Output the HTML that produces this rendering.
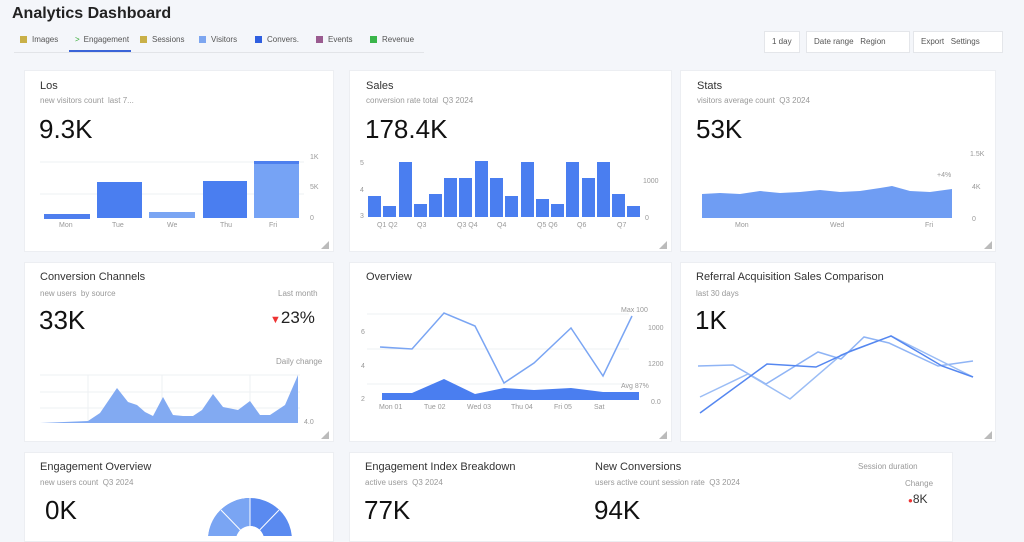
<!DOCTYPE html>
<html><head><meta charset="utf-8"><style>
*{margin:0;padding:0;box-sizing:border-box}
body{width:1024px;height:536px;overflow:hidden;background:#f4f6fa;font-family:"Liberation Sans",sans-serif;position:relative;color:#222}
.a{position:absolute}
.card{position:absolute;background:#fff;border:1px solid #eceef2}
.t{position:absolute;font-size:11px;color:#333}
.s{position:absolute;font-size:8px;color:#999}
.v{position:absolute;font-size:26px;color:#111}
.tab{position:absolute;top:35px;font-size:8px;color:#555}
.sq{display:inline-block;width:7px;height:7px;margin-right:5px;vertical-align:-1px}
.btn{position:absolute;top:31px;height:22px;background:#fff;border:1px solid #e4e6ea;font-size:8px;color:#555;line-height:20px;padding:0 7px}
.cr{position:absolute;width:0;height:0;border-left:8px solid transparent;border-bottom:8px solid #bbb}
</style></head><body>
<div class="a" style="left:12px;top:5px;font-size:16px;font-weight:bold;color:#222">Analytics Dashboard</div>
<div class="tab" style="left:20px"><span class="sq" style="background:#c9b048"></span>Images</div>
<div class="tab" style="left:75px"><span style="color:#3a3;margin-right:4px">&gt;</span>Engagement</div>
<div class="tab" style="left:140px"><span class="sq" style="background:#c9b048"></span>Sessions</div>
<div class="tab" style="left:199px"><span class="sq" style="background:#7da6f0"></span>Visitors</div>
<div class="tab" style="left:255px"><span class="sq" style="background:#2f5fe0"></span>Convers.</div>
<div class="tab" style="left:316px"><span class="sq" style="background:#9a5b90"></span>Events</div>
<div class="tab" style="left:370px"><span class="sq" style="background:#3ab54a"></span>Revenue</div>
<div class="a" style="left:69px;top:50px;width:62px;height:2px;background:#3a64d8"></div>
<div class="a" style="left:14px;top:52px;width:410px;height:1px;background:#e2e4e8"></div>
<div class="btn" style="left:764px">1 day</div>
<div class="btn" style="left:806px;width:104px">Date range &nbsp; Region</div>
<div class="btn" style="left:913px;width:90px">Export &nbsp; Settings</div>

<!-- row1 -->
<div class="card" style="left:24px;top:70px;width:310px;height:182px"></div>
<div class="t" style="left:40px;top:80px">Los</div>
<div class="s" style="left:40px;top:96px">new visitors count &nbsp;last 7...</div>
<div class="v" style="left:39px;top:114px">9.3K</div>
<svg class="a" style="left:24px;top:70px" width="310" height="182">
<g stroke="#eef0f3"><line x1="16" y1="92" x2="280" y2="92"/><line x1="16" y1="124" x2="280" y2="124"/></g>
<rect x="20" y="144" width="46" height="5" fill="#4f7fee"/>
<rect x="73" y="112" width="45" height="36" fill="#4a7ef0"/>
<rect x="125" y="142" width="46" height="6" fill="#7aa5f3"/>
<rect x="179" y="111" width="44" height="37" fill="#4a7ef0"/>
<rect x="230" y="91" width="45" height="57" fill="#76a3f5"/><rect x="230" y="91" width="45" height="3" fill="#4d7fee"/>
<g font-size="7" fill="#999"><text x="286" y="89">1K</text><text x="286" y="119">5K</text><text x="286" y="150">0</text>
<text x="35" y="157">Mon</text><text x="88" y="157">Tue</text><text x="143" y="157">We</text><text x="196" y="157">Thu</text><text x="245" y="157">Fri</text></g>
</svg>
<div class="cr" style="left:321px;top:241px"></div>

<div class="card" style="left:349px;top:70px;width:323px;height:182px"></div>
<div class="t" style="left:366px;top:80px">Sales</div>
<div class="s" style="left:366px;top:96px">conversion rate total &nbsp;Q3 2024</div>
<div class="v" style="left:365px;top:114px">178.4K</div>
<svg class="a" style="left:349px;top:70px" width="323" height="182">
<g fill="#4a7ef0">
<rect x="19" y="126" width="13" height="21"/><rect x="34" y="136" width="13" height="11"/><rect x="50" y="92" width="13" height="55"/><rect x="65" y="134" width="13" height="13"/><rect x="80" y="124" width="13" height="23"/><rect x="95" y="108" width="13" height="39"/><rect x="110" y="108" width="13" height="39"/><rect x="126" y="91" width="13" height="56"/><rect x="141" y="108" width="13" height="39"/><rect x="156" y="126" width="13" height="21"/><rect x="172" y="92" width="13" height="55"/><rect x="187" y="129" width="13" height="18"/><rect x="202" y="134" width="13" height="13"/><rect x="217" y="92" width="13" height="55"/><rect x="233" y="108" width="13" height="39"/><rect x="248" y="92" width="13" height="55"/><rect x="263" y="124" width="13" height="23"/><rect x="278" y="136" width="13" height="11"/></g>
<g font-size="7" fill="#999"><text x="11" y="95">5</text><text x="11" y="122">4</text><text x="11" y="148">3</text><text x="294" y="113">1000</text><text x="296" y="150">0</text>
<text x="28" y="157">Q1 Q2</text><text x="108" y="157">Q3 Q4</text><text x="188" y="157">Q5 Q6</text><text x="268" y="157">Q7</text><text x="68" y="157">Q3</text><text x="148" y="157">Q4</text><text x="228" y="157">Q6</text></g>
</svg>
<div class="cr" style="left:659px;top:241px"></div>

<div class="card" style="left:680px;top:70px;width:316px;height:182px"></div>
<div class="t" style="left:697px;top:80px">Stats</div>
<div class="s" style="left:697px;top:96px">visitors average count &nbsp;Q3 2024</div>
<div class="v" style="left:696px;top:114px">53K</div>
<svg class="a" style="left:680px;top:70px" width="316" height="182">
<path d="M22 124 L40 123 L60 124 L80 121 L100 123 L120 122 L140 120 L160 122 L180 121 L200 118 L212 116 L230 121 L250 122 L272 119 L272 148 L22 148Z" fill="#6f9df3"/>
<g font-size="7" fill="#999"><text x="290" y="86">1.5K</text><text x="257" y="107">+4%</text><text x="292" y="119">4K</text><text x="292" y="151">0</text>
<text x="55" y="157">Mon</text><text x="150" y="157">Wed</text><text x="245" y="157">Fri</text></g>
</svg>
<div class="cr" style="left:984px;top:241px"></div>

<!-- row2 -->
<div class="card" style="left:24px;top:262px;width:310px;height:180px"></div>
<div class="t" style="left:40px;top:271px">Conversion Channels</div>
<div class="s" style="left:40px;top:289px">new users &nbsp;by source</div>
<div class="s" style="left:278px;top:289px">Last month</div>
<div class="v" style="left:39px;top:305px">33K</div>
<div class="a" style="left:270px;top:308px;font-size:17px;color:#222"><span style="color:#e33;font-size:11px">&#9660;</span>23%</div>
<div class="s" style="left:276px;top:357px">Daily change</div>
<svg class="a" style="left:24px;top:262px" width="310" height="180">
<g stroke="#eef0f3"><line x1="16" y1="113" x2="276" y2="113"/><line x1="16" y1="130" x2="276" y2="130"/><line x1="16" y1="146" x2="276" y2="146"/><line x1="64" y1="113" x2="64" y2="161"/><line x1="138" y1="113" x2="138" y2="161"/><line x1="226" y1="113" x2="226" y2="161"/></g>
<path d="M16 161 L64 159 L76 151 L93 126 L104 140 L113 143 L121 150 L129 154 L139 135 L149 153 L159 154 L169 154 L178 148 L189 132 L199 145 L214 148 L226 139 L236 153 L246 153 L261 143 L274 113 L274 161Z" fill="#82aaf2"/>
<g font-size="7" fill="#999"><text x="280" y="162">4.0</text></g>
</svg>
<div class="cr" style="left:321px;top:431px"></div>

<div class="card" style="left:349px;top:262px;width:323px;height:180px"></div>
<div class="t" style="left:366px;top:271px">Overview</div>
<svg class="a" style="left:349px;top:262px" width="323" height="180">
<g stroke="#eef0f3"><line x1="18" y1="52" x2="280" y2="52"/><line x1="18" y1="87" x2="280" y2="87"/><line x1="18" y1="122" x2="280" y2="122"/></g>
<path d="M33 131 L63 131 L95 117 L126 132 L155 126 L185 128 L222 126 L254 130 L290 130 L290 138 L33 138Z" fill="#4a7ef0"/>
<polyline points="31,85 63,87 95,51 126,64 155,121 185,101 222,66 254,114 283,54" fill="none" stroke="#7aa5f3" stroke-width="1.5"/>
<g font-size="7" fill="#999"><text x="12" y="72">6</text><text x="12" y="106">4</text><text x="12" y="139">2</text><text x="299" y="68">1000</text><text x="299" y="104">1200</text><text x="302" y="142">0.0</text><text x="272" y="50">Max 100</text><text x="272" y="126">Avg 87%</text>
<text x="30" y="147">Mon 01</text><text x="75" y="147">Tue 02</text><text x="118" y="147">Wed 03</text><text x="162" y="147">Thu 04</text><text x="205" y="147">Fri 05</text><text x="245" y="147">Sat</text></g>
</svg>
<div class="cr" style="left:659px;top:431px"></div>

<div class="card" style="left:680px;top:262px;width:316px;height:180px"></div>
<div class="t" style="left:696px;top:271px">Referral Acquisition Sales Comparison</div>
<div class="s" style="left:696px;top:289px">last 30 days</div>
<div class="v" style="left:695px;top:305px">1K</div>
<svg class="a" style="left:680px;top:262px" width="316" height="180">
<g fill="none" stroke-width="1.5">
<polyline points="18,104 53,103 86,122 138,90 161,97 184,75 209,81 258,104 293,99" stroke="#8fb4f5"/>
<polyline points="20,135 68,112 110,137 161,93 211,74 293,115" stroke="#9bbdf5"/>
<polyline points="20,151 87,102 136,105 171,89 211,74 262,104 293,115" stroke="#5587f0"/>
</g>
</svg>
<div class="cr" style="left:984px;top:431px"></div>

<!-- row3 -->
<div class="card" style="left:24px;top:452px;width:310px;height:90px"></div>
<div class="t" style="left:40px;top:461px">Engagement Overview</div>
<div class="s" style="left:40px;top:478px">new users count &nbsp;Q3 2024</div>
<div class="v" style="left:45px;top:495px">0K</div>
<svg class="a" style="left:200px;top:490px" width="100" height="46">
<circle cx="50" cy="50" r="28" fill="none" stroke="#5a8af0" stroke-width="28"/>
<path d="M50 50 L50 8 A42 42 0 0 0 8 50Z" fill="#7aa5f3"/>
<g stroke="#fff" stroke-width="1"><line x1="50" y1="50" x2="50" y2="8"/><line x1="50" y1="50" x2="79" y2="20"/><line x1="50" y1="50" x2="21" y2="20"/></g>
<circle cx="50" cy="50" r="14" fill="#fff"/>
</svg>

<div class="card" style="left:349px;top:452px;width:604px;height:90px"></div>
<div class="t" style="left:365px;top:461px">Engagement Index Breakdown</div>
<div class="s" style="left:365px;top:478px">active users &nbsp;Q3 2024</div>
<div class="v" style="left:364px;top:495px">77K</div>
<div class="t" style="left:595px;top:461px">New Conversions</div>
<div class="s" style="left:595px;top:478px">users active count session rate &nbsp;Q3 2024</div>
<div class="v" style="left:594px;top:495px">94K</div>
<div class="s" style="left:858px;top:462px">Session duration</div>
<div class="s" style="left:905px;top:479px">Change</div>
<div class="a" style="left:908px;top:492px;font-size:12px;color:#333"><span style="color:#e33;font-size:8px">&#9679;</span>8K</div>
</body></html>
